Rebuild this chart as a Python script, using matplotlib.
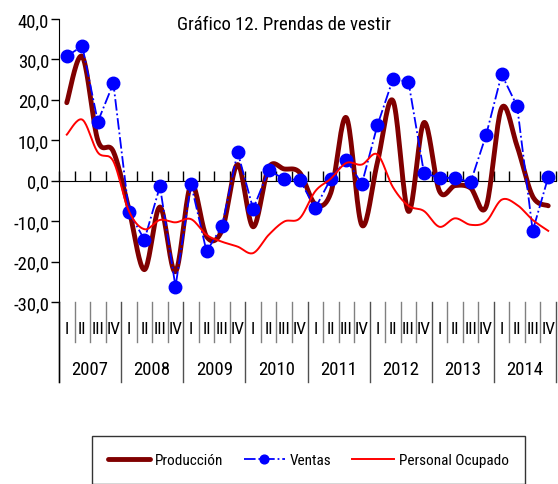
import numpy as np
import matplotlib
matplotlib.use("Agg")
import matplotlib.pyplot as plt

# quarterly data 2007-2014
years = ["2007", "2008", "2009", "2010", "2011", "2012", "2013", "2014"]
quarters = ["I", "II", "III", "IV"]

produccion = [19.3, 30.7, 10.0, 7.2,
              -7.0, -22.0, -6.5, -22.5,
              -1.0, -13.8, -12.2, 4.0,
              -11.4, 3.2, 2.9, 2.0,
              -5.8, -3.0, 15.6, -11.0,
              4.5, 19.8, -7.6, 14.4,
              -2.6, -1.2, -1.8, -6.4,
              18.0, 8.5, -3.9, -6.2]

ventas = [30.8, 33.3, 14.6, 24.1,
          -7.7, -14.6, -1.4, -26.2,
          -0.8, -17.5, -11.2, 7.1,
          -7.0, 2.6, 0.4, 0.2,
          -6.8, 0.5, 5.2, -0.8,
          13.7, 25.1, 24.5, 1.9,
          0.7, 0.7, -0.4, 11.3,
          26.3, 18.4, -12.4, 0.9]

personal = [11.4, 15.1, 7.0, 4.8,
            -7.5, -12.0, -9.7, -10.3,
            -9.5, -13.4, -15.1, -16.3,
            -17.9, -13.4, -10.1, -9.3,
            -2.6, 0.5, 4.4, 4.0,
            6.5, -1.6, -6.2, -7.5,
            -11.4, -9.3, -10.9, -10.1,
            -4.7, -6.0, -9.7, -12.4]

yticks = [-30, -20, -10, 0, 10, 20, 30, 40]

plt.rcParams['font.family'] = ['Roboto Condensed', 'Liberation Sans', 'DejaVu Sans']


def smooth(y, n=20):
    # Excel-like smoothed line (Catmull-Rom through the points)
    y = np.asarray(y, float)
    x = np.arange(len(y)) + 0.5
    xp = np.concatenate([[x[0]], x, [x[-1]]])
    yp = np.concatenate([[y[0]], y, [y[-1]]])
    xs, ys = [], []
    t = np.linspace(0, 1, n, endpoint=False)
    for i in range(1, len(xp) - 2):
        for arr, out in ((xp, xs), (yp, ys)):
            p0, p1, p2, p3 = arr[i - 1], arr[i], arr[i + 1], arr[i + 2]
            out.extend(0.5 * (2 * p1 + (-p0 + p2) * t
                              + (2 * p0 - 5 * p1 + 4 * p2 - p3) * t ** 2
                              + (-p0 + 3 * p1 - 3 * p2 + p3) * t ** 3))
    xs.append(x[-1])
    ys.append(y[-1])
    return np.array(xs), np.array(ys)


W, H = 558, 485
fig = plt.figure(figsize=(W / 100, H / 100), dpi=100)
ax = fig.add_axes([59 / W, 1 - 303 / H, 497 / W, 283 / H])

n = len(ventas)
xs = np.arange(n) + 0.5

x1, y1 = smooth(produccion)
ax.plot(x1, y1, color='#800000', lw=3.5, label='Producción', zorder=3, solid_capstyle='round')
ax.plot(xs, ventas, color='#0000FF', lw=1.3, ls='-.', marker='o', ms=9,
        label='Ventas', zorder=4)
x3, y3 = smooth(personal)
ax.plot(x3, y3, color='#FF0000', lw=1.4, label='Personal Ocupado', zorder=5)

ax.set_xlim(0, n)
ax.set_ylim(-30, 40)
ax.set_yticks(yticks)
ax.set_yticklabels([f"{v:.1f}".replace('.', ',') for v in yticks], fontsize=13.5)
ax.tick_params(axis='y', direction='out', length=6, width=1, pad=1)

ax.spines['top'].set_visible(False)
ax.spines['right'].set_visible(False)
ax.spines['bottom'].set_position(('data', 0))
ax.spines['bottom'].set_zorder(2)
ax.set_xticks(np.arange(n + 1))
ax.tick_params(axis='x', direction='in', length=7, width=1, labelbottom=False)

# category axis below the plot: quarters and years
tr = ax.get_xaxis_transform()
px = 283.0
for k in range(n + 1):
    depth = 80 if k % 4 == 0 else 40
    ax.plot([k, k], [0, -depth / px], color='#808080' if k % 4 else '#505050',
            lw=1, transform=tr, clip_on=False)
ax.plot([0, 0], [0, -80 / px], color='black', lw=1, transform=tr, clip_on=False)
for k in range(n):
    ax.text(k + 0.5, -27 / px, quarters[k % 4], transform=tr, ha='center',
            va='center', fontsize=12.5)
for j, yr in enumerate(years):
    ax.text(4 * j + 2, -67 / px, yr, transform=tr, ha='center', va='center', fontsize=13.5)

fig.text(284 / W, 1 - 25 / H, 'Gráfico 12. Prendas de vestir', ha='center',
         va='center', fontsize=13.5)

leg = fig.legend(loc='center', bbox_to_anchor=(308.5 / W, 1 - 461 / H), ncol=3,
                 fontsize=11, frameon=True, fancybox=False, edgecolor='black',
                 handlelength=2.7, handletextpad=0.33, columnspacing=1.35,
                 borderpad=1.1, borderaxespad=0, numpoints=1, markerscale=0.7)
leg.get_frame().set_linewidth(1)

fig.savefig('out.png', dpi=100)
